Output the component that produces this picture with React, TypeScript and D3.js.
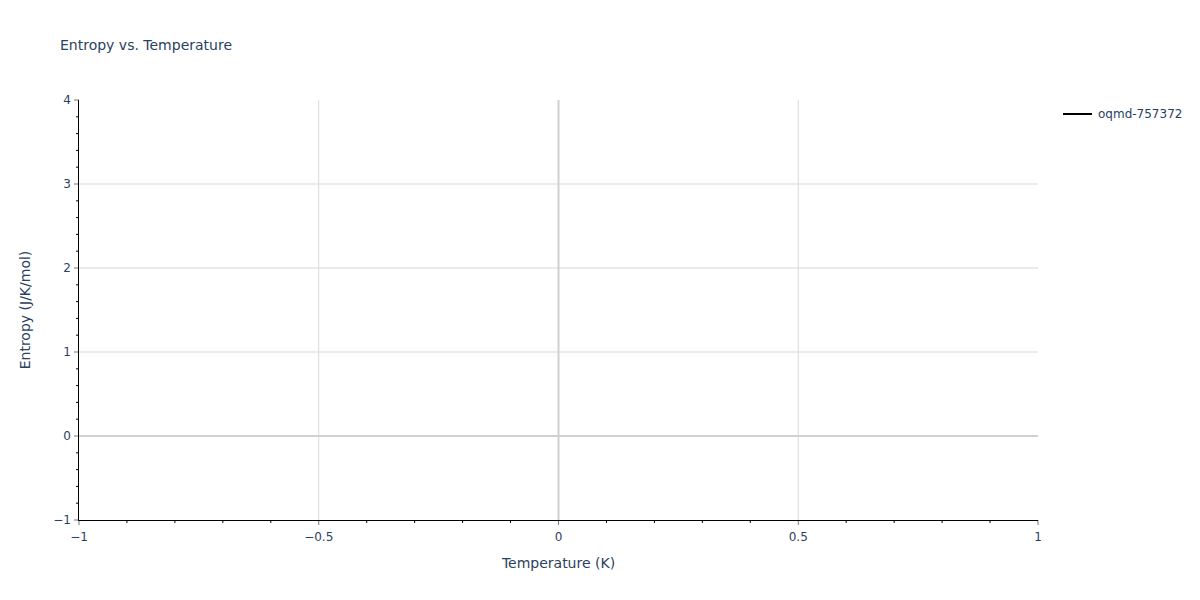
import * as d3 from 'd3'

const TITLE = 'Entropy vs. Temperature'
const X_LABEL = 'Temperature (K)'
const Y_LABEL = 'Entropy (J/K/mol)'
const X_DOMAIN = [-1, 1]
const Y_DOMAIN = [-1, 4]
const X_TICKS = [-1, -0.5, 0, 0.5, 1]
const Y_TICKS = [-1, 0, 1, 2, 3, 4]
const SERIES_NAMES = ['oqmd-757372']
const SERIES_TEMPS: number[] = []
const SERIES_ENTROPY: number[] = []

const WIDTH = 1200
const HEIGHT = 600
const PLOT_LEFT = 79
const PLOT_RIGHT = 1038
const PLOT_TOP = 100
const PLOT_BOTTOM = 520
const FONT = '"DejaVu Sans", Verdana, sans-serif'
const TEXT_COLOR = '#2a3f5f'

export default function App() {
  const x = d3.scaleLinear().domain(X_DOMAIN).range([PLOT_LEFT, PLOT_RIGHT])
  const y = d3.scaleLinear().domain(Y_DOMAIN).range([PLOT_BOTTOM, PLOT_TOP])
  const fmt = d3.format('')

  const xMinor = d3.range(-10, 11).map((i) => i / 10).filter((v) => !X_TICKS.includes(v))
  const yMinor = d3.range(-5, 21).map((i) => i / 5).filter((v) => !Y_TICKS.some((t) => Math.abs(t - v) < 1e-9))

  const line = d3
    .line<number>()
    .x((_, i) => x(SERIES_TEMPS[i]))
    .y((d) => y(d))

  return (
    <svg
      width={WIDTH}
      height={HEIGHT}
      style={{ position: 'absolute', left: 0, top: 0, background: '#fff', fontFamily: FONT }}
    >
      {/* horizontal grid */}
      {Y_TICKS.filter((t) => t !== 0 && t !== Y_DOMAIN[0] && t !== Y_DOMAIN[1]).map((t) => (
        <line key={`gy${t}`} x1={PLOT_LEFT} x2={PLOT_RIGHT} y1={y(t)} y2={y(t)} stroke="#ebebeb" strokeWidth={2} />
      ))}
      {/* vertical grid */}
      {X_TICKS.filter((t) => t !== 0 && t !== X_DOMAIN[0] && t !== X_DOMAIN[1]).map((t) => (
        <line key={`gx${t}`} x1={x(t)} x2={x(t)} y1={PLOT_TOP} y2={PLOT_BOTTOM} stroke="#d9d9d9" strokeWidth={1} />
      ))}
      {/* zero lines */}
      <line x1={PLOT_LEFT} x2={PLOT_RIGHT} y1={y(0)} y2={y(0)} stroke="#d0d0d0" strokeWidth={2} />
      <line x1={x(0)} x2={x(0)} y1={PLOT_TOP} y2={PLOT_BOTTOM} stroke="#d0d0d0" strokeWidth={2} />

      {SERIES_TEMPS.length > 0 && (
        <path d={line(SERIES_ENTROPY) ?? ''} fill="none" stroke="#000" strokeWidth={2} />
      )}

      {/* minor ticks */}
      {xMinor.map((v) => (
        <line key={`mx${v}`} x1={x(v)} x2={x(v)} y1={PLOT_BOTTOM} y2={PLOT_BOTTOM + 3} stroke="#000" strokeWidth={1} />
      ))}
      {yMinor.map((v) => (
        <line key={`my${v}`} x1={PLOT_LEFT - 3} x2={PLOT_LEFT} y1={y(v)} y2={y(v)} stroke="#000" strokeWidth={1} />
      ))}
      {/* major ticks */}
      {X_TICKS.map((t) => (
        <line key={`tx${t}`} x1={x(t)} x2={x(t)} y1={PLOT_BOTTOM} y2={PLOT_BOTTOM + 5} stroke="#777" strokeWidth={1} />
      ))}
      {Y_TICKS.map((t) => (
        <line key={`ty${t}`} x1={PLOT_LEFT - 5} x2={PLOT_LEFT} y1={y(t)} y2={y(t)} stroke="#777" strokeWidth={1} />
      ))}

      {/* axis lines */}
      <line x1={PLOT_LEFT} x2={PLOT_RIGHT} y1={PLOT_BOTTOM + 0.5} y2={PLOT_BOTTOM + 0.5} stroke="#000" strokeWidth={1} />
      <line x1={PLOT_LEFT - 0.5} x2={PLOT_LEFT - 0.5} y1={PLOT_TOP} y2={PLOT_BOTTOM + 1} stroke="#000" strokeWidth={1} />

      {/* tick labels */}
      {X_TICKS.map((t) => (
        <text key={`lx${t}`} x={x(t)} y={PLOT_BOTTOM + 21} textAnchor="middle" fontSize={12} fill={TEXT_COLOR}>
          {fmt(t)}
        </text>
      ))}
      {Y_TICKS.map((t) => (
        <text key={`ly${t}`} x={PLOT_LEFT - 8} y={y(t) + 4} textAnchor="end" fontSize={12} fill={TEXT_COLOR}>
          {fmt(t)}
        </text>
      ))}

      {/* titles */}
      <text x={60} y={50} fontSize={14} fill={TEXT_COLOR}>
        {TITLE}
      </text>
      <text x={(PLOT_LEFT + PLOT_RIGHT) / 2} y={568} textAnchor="middle" fontSize={14} fill={TEXT_COLOR}>
        {X_LABEL}
      </text>
      <text
        transform={`translate(30,${(PLOT_TOP + PLOT_BOTTOM) / 2}) rotate(-90)`}
        textAnchor="middle"
        fontSize={14}
        fill={TEXT_COLOR}
      >
        {Y_LABEL}
      </text>

      {/* legend */}
      {SERIES_NAMES.map((name, i) => (
        <g key={name} transform={`translate(1063,${114 + i * 19})`}>
          <line x1={0} x2={29} y1={0} y2={0} stroke="#000" strokeWidth={2} />
          <text x={35} y={4} fontSize={12} fill={TEXT_COLOR}>
            {name}
          </text>
        </g>
      ))}
    </svg>
  )
}
